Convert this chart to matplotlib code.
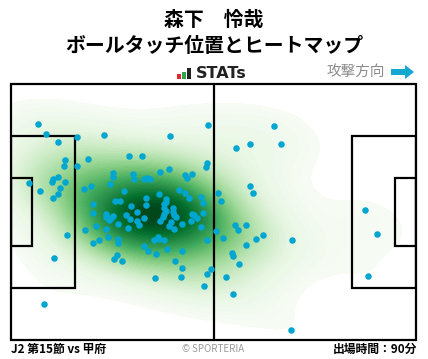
import numpy as np
import matplotlib
matplotlib.use('Agg')
import matplotlib.pyplot as plt
import seaborn as sns
from matplotlib.patches import Rectangle, FancyArrow

plt.rcParams['font.family'] = ['Noto Sans CJK JP', 'DejaVu Sans']

# Titles and labels
player = '森下　怜哉'
subtitle = 'ボールタッチ位置とヒートマップ'
match_label = 'J2 第15節 vs 甲府'
minutes_label = '出場時間：90分'
credit = '© SPORTERIA'
direction_label = '攻撃方向'

# Ball touch positions (metres, pitch 105 x 68, y measured from top touchline)
touch_x = [7.0, 9.1, 12.2, 17.1, 24.1, 41.2, 51.1, 14.0, 13.7, 17.1,
           20.0, 30.6, 34.0, 50.8, 50.6, 41.0, 38.6, 26.4, 26.4, 31.6,
           31.9, 34.5, 35.3, 36.0, 45.1, 45.6, 46.9, 12.2, 10.9, 10.6,
           14.0, 4.7, 12.7, 7.5, 12.2, 10.9, 18.9, 20.7, 25.7, 29.3,
           43.6, 45.1, 46.2, 49.3, 49.8, 38.4, 40.2, 40.2, 35.0, 35.0,
           27.0, 28.3, 31.1, 21.3, 42.0, 39.7, 39.7, 40.2, 39.7, 39.4,
           68.2, 62.0, 58.3, 70.0, 62.0, 62.7, 53.7, 54.4, 91.8, 14.5,
           11.1, 8.6, 21.3, 19.2, 22.0, 21.3, 22.8, 24.6, 24.6, 25.4,
           25.9, 26.4, 27.7, 24.6, 25.2, 27.7, 27.7, 27.5, 26.7, 28.8,
           29.8, 30.9, 32.7, 32.7, 33.2, 34.5, 30.3, 38.6, 41.0, 41.5,
           42.0, 42.3, 42.8, 44.3, 42.3, 46.9, 47.5, 48.2, 46.7, 49.8,
           49.3, 50.8, 37.1, 38.1, 38.4, 39.7, 34.5, 35.5, 37.6, 40.5,
           44.3, 42.5, 44.3, 37.3, 44.1, 50.0, 50.8, 51.9, 94.9, 92.6,
           72.6, 72.9, 58.1, 60.9, 58.9, 53.2, 55.0, 60.9, 63.5, 65.3,
           57.3, 57.6, 59.1, 55.7, 57.6]
touch_y = [10.6, 13.3, 15.4, 14.1, 13.5, 13.8, 10.9, 20.2, 21.8, 21.8,
           19.9, 19.1, 19.1, 21.0, 22.0, 22.6, 23.4, 23.6, 24.7, 23.9,
           25.2, 25.2, 25.0, 25.2, 24.2, 25.0, 23.9, 24.7, 25.2, 26.0,
           26.0, 26.3, 27.6, 28.4, 29.2, 30.3, 27.9, 27.1, 26.6, 28.4,
           28.2, 29.0, 30.3, 30.0, 31.6, 29.2, 30.5, 31.3, 30.3, 32.1,
           31.1, 31.1, 32.4, 31.9, 32.9, 31.9, 32.9, 33.7, 34.5, 35.3,
           11.2, 15.9, 17.0, 15.9, 27.1, 29.0, 29.0, 31.1, 33.5, 40.1,
           46.2, 58.4, 34.3, 38.8, 37.7, 42.2, 41.4, 34.5, 35.3, 36.1,
           35.6, 35.1, 37.2, 38.5, 40.6, 41.2, 42.2, 45.4, 46.5, 47.0,
           34.8, 35.9, 34.0, 36.4, 37.5, 35.6, 38.2, 36.4, 37.7, 36.7,
           34.0, 34.8, 35.3, 37.2, 38.5, 34.5, 34.8, 35.6, 36.4, 34.3,
           38.0, 41.4, 41.4, 40.6, 41.2, 41.4, 43.0, 44.4, 45.2, 43.8,
           44.4, 47.0, 48.9, 51.5, 51.3, 53.7, 50.5, 49.1, 39.8, 51.0,
           65.3, 41.4, 37.5, 37.5, 38.8, 39.0, 40.9, 42.8, 41.2, 40.1,
           44.9, 45.7, 47.8, 51.3, 55.8]

fig = plt.figure(figsize=(4.28, 3.59), dpi=100)
ax = fig.add_axes([11/428, 19/359, 405/428, 256/359])

# Heat map
sns.kdeplot(x=touch_x, y=touch_y, fill=True, cmap='Greens', levels=60,
            thresh=0.03, bw_adjust=1.3, clip=((0, 105), (0, 68)), ax=ax, zorder=1)

# Pitch lines
lc = 'black'
lw = 1.6
ax.add_patch(Rectangle((0, 0), 105, 68, fill=False, ec=lc, lw=lw, zorder=3, clip_on=False))
ax.plot([52.5, 52.5], [0, 68], c=lc, lw=lw, zorder=3)
ax.add_patch(Rectangle((0, 13.84), 16.5, 40.32, fill=False, ec=lc, lw=lw, zorder=3))
ax.add_patch(Rectangle((0, 24.84), 5.5, 18.32, fill=False, ec=lc, lw=lw, zorder=3))
ax.add_patch(Rectangle((105 - 16.5, 13.84), 16.5, 40.32, fill=False, ec=lc, lw=lw, zorder=3))
ax.add_patch(Rectangle((105 - 5.5, 24.84), 5.5, 18.32, fill=False, ec=lc, lw=lw, zorder=3))

# Touches
ax.scatter(touch_x, touch_y, s=22, c='#00a6d0', lw=0, zorder=4)

ax.set_xlim(0, 105)
ax.set_ylim(68, 0)
ax.axis('off')

# Titles
fig.text(0.5, 1 - 20/359, player, ha='center', va='center', fontsize=14.3, fontweight='bold')
fig.text(0.5, 1 - 46/359, subtitle, ha='center', va='center', fontsize=14.3, fontweight='bold')

# STATs logo
for bx, bh, bc in [(177, 5, '#e8262a'), (182, 7, '#2aa74a'), (187, 11, '#222222')]:
    fig.patches.append(Rectangle((bx/428, 1 - 79/359), 3.5/428, bh/359,
                                 transform=fig.transFigure, fc=bc, ec='none'))
fig.text(196/428, 1 - 73/359, 'STATs', ha='left', va='center', fontsize=11.5,
         fontweight='bold', color='#222222', family='DejaVu Sans')

# Attack direction
fig.text(385/428, 1 - 72/359, direction_label, ha='right', va='center', fontsize=10.5, color='#8c8c8c')
fig.patches.append(FancyArrow(391/428, 1 - 72/359, 14/428, 0, width=6/359,
                              head_width=14/359, head_length=9/428,
                              length_includes_head=False, transform=fig.transFigure,
                              fc='#12a8d0', ec='none'))

# Footer
fig.text(11/428, 1 - 349/359, match_label, ha='left', va='center', fontsize=8.5, fontweight='bold')
fig.text(213/428, 1 - 349/359, credit, ha='center', va='center', fontsize=7, color='#9a9a9a')
fig.text(417/428, 1 - 349/359, minutes_label, ha='right', va='center', fontsize=8.5, fontweight='bold')

fig.savefig('out.png', dpi=100)
